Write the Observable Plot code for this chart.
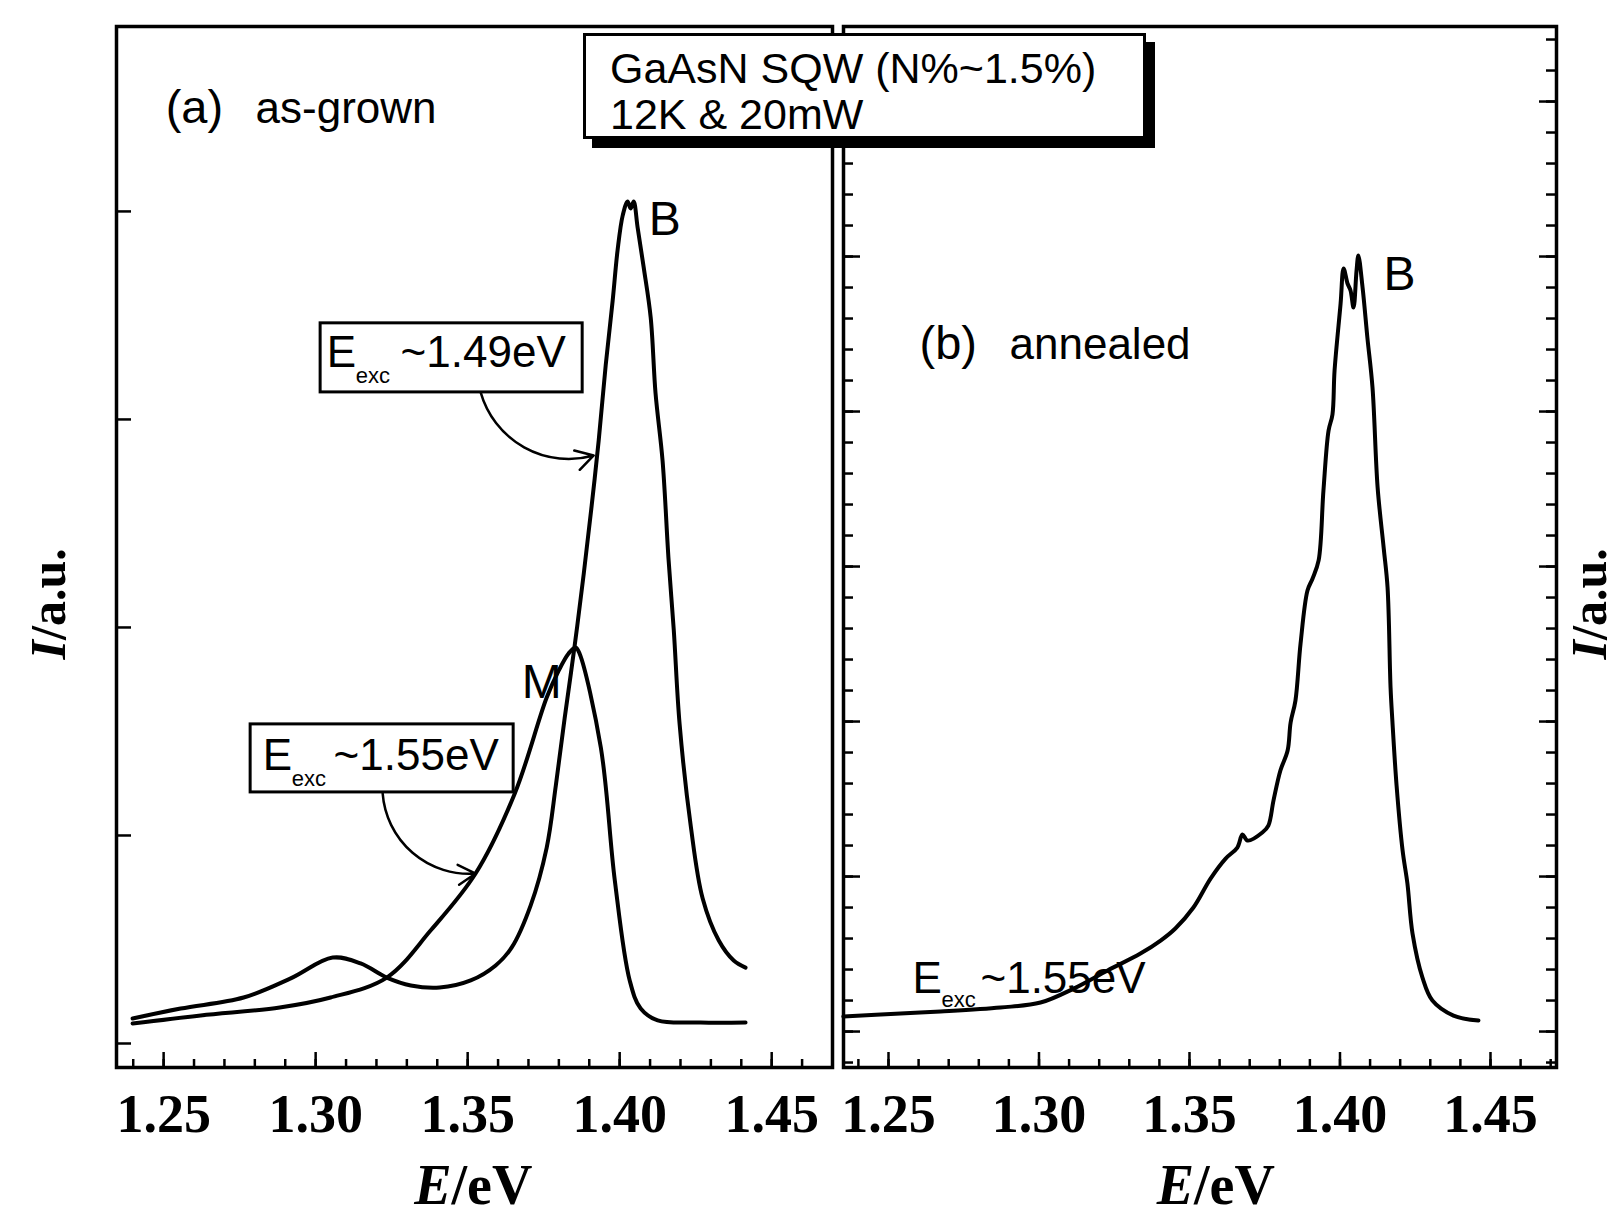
<!DOCTYPE html>
<html>
<head>
<meta charset="utf-8">
<script src="https://cdn.jsdelivr.net/npm/d3@7"></script>
<script src="https://cdn.jsdelivr.net/npm/@observablehq/plot@0.6"></script>
<style>
  body { margin: 0; background: #fff; }
  #wrap { position: relative; width: 1619px; height: 1226px; overflow: hidden; background: #fff; }
  #wrap svg { position: absolute; top: 0; }
  #title {
    position: absolute; left: 583px; top: 33px; width: 563px; height: 106px;
    box-sizing: border-box; border: 3px solid #000; box-shadow: 9px 9px 0 #000;
    background: #fff; padding: 9px 0 0 24px; z-index: 5;
    font-family: "Liberation Sans", Arial, sans-serif; font-size: 43px; line-height: 46px; color: #000;
    white-space: nowrap;
  }
</style>
</head>
<body>
<div id="wrap">
  <div id="title">GaAsN SQW (N%~1.5%)<br>12K &amp; 20mW</div>
</div>
<script>
// ---------------- data ----------------
const xTicksMajor = [1.25, 1.30, 1.35, 1.40, 1.45];
const xTicksMinorA = d3.range(124, 147).map(d => d / 100);
const xTicksMinorB = d3.range(124, 148).map(d => d / 100);
const yTicksA = [0, 1, 2, 3, 4];
const yTicksMajorB = [0, 1, 2, 3, 4, 5, 6];
const yTicksMinorB = d3.range(-1, 33).map(k => k / 5);

// (a) as-grown, excitation ~1.49 eV (hump at 1.30 eV + B peak)
const energyA149 = [1.2398, 1.2556, 1.2763, 1.2918, 1.3056, 1.3148, 1.3234, 1.3313, 1.3408, 1.3510,
  1.3592, 1.3645, 1.3707, 1.3760, 1.3790, 1.3819, 1.3852, 1.3882, 1.3908, 1.3931, 1.3954, 1.3977,
  1.3993, 1.4010, 1.4026, 1.4036, 1.4046, 1.4059, 1.4079, 1.4102, 1.4118, 1.4141, 1.4161, 1.4178,
  1.4197, 1.4234, 1.4273, 1.4326, 1.4375, 1.4414];
const intensityA149 = [0.120, 0.168, 0.221, 0.313, 0.413, 0.385, 0.317, 0.279, 0.269, 0.303,
  0.375, 0.462, 0.663, 0.942, 1.240, 1.563, 1.913, 2.260, 2.587, 2.899, 3.260, 3.572,
  3.812, 3.981, 4.048, 4.014, 4.048, 3.923, 3.731, 3.490, 3.125, 2.803, 2.322, 1.986,
  1.538, 1.043, 0.697, 0.495, 0.399, 0.365];

// (a) as-grown, excitation ~1.55 eV (smooth tail + M peak)
const energyA155 = [1.2398, 1.2622, 1.2882, 1.3049, 1.3234, 1.3378, 1.3526, 1.3655, 1.3760, 1.3799,
  1.3832, 1.3855, 1.3868, 1.3938, 1.3984, 1.4033, 1.4069, 1.4125, 1.4266, 1.4414];
const intensityA155 = [0.096, 0.135, 0.173, 0.221, 0.317, 0.543, 0.817, 1.202, 1.663, 1.791,
  1.875, 1.904, 1.875, 1.423, 0.784, 0.303, 0.168, 0.111, 0.101, 0.101];

// (b) annealed, excitation ~1.55 eV
const energyB155 = [1.2350, 1.2540, 1.2673, 1.2872, 1.3005, 1.3115, 1.3228, 1.3337, 1.3404, 1.3453,
  1.3513, 1.3570, 1.3620, 1.3659, 1.3676, 1.3693, 1.3742, 1.3762, 1.3779, 1.3802, 1.3826, 1.3836,
  1.3852, 1.3869, 1.3892, 1.3909, 1.3929, 1.3945, 1.3962, 1.3975, 1.3982, 1.4002, 1.4012, 1.4025,
  1.4035, 1.4045, 1.4055, 1.4061, 1.4075, 1.4091, 1.4108, 1.4125, 1.4145, 1.4158, 1.4168, 1.4174,
  1.4188, 1.4208, 1.4224, 1.4241, 1.4274, 1.4307, 1.4377, 1.4460];
const intensityB155 = [0.097, 0.116, 0.129, 0.155, 0.187, 0.277, 0.394, 0.503, 0.587, 0.665,
  0.800, 0.987, 1.116, 1.187, 1.271, 1.232, 1.284, 1.329, 1.490, 1.684, 1.813, 1.994,
  2.135, 2.503, 2.845, 2.923, 3.039, 3.490, 3.877, 3.981, 4.265, 4.697, 4.923, 4.826,
  4.781, 4.671, 4.910, 5.006, 4.800, 4.477, 4.155, 3.510, 3.123, 2.865, 2.219, 2.006,
  1.587, 1.168, 0.955, 0.632, 0.348, 0.200, 0.103, 0.071];

// annotations (data coordinates: energy, intensity)
const parenA = [{e: 1.25066, i: 4.423, t: "(a)"}];
const wordA = [{e: 1.28025, i: 4.423, t: "as-grown"}];
const peakA = [{e: 1.40954, i: 3.885, t: "B"}, {e: 1.36776, i: 1.663, t: "M"}];
const boxesA = [{e1: 1.30164, e2: 1.38783, i1: 3.130, i2: 3.462}, {e1: 1.27862, e2: 1.36513, i1: 1.207, i2: 1.534}];
const excEA = [{e: 1.30362, i: 3.250, t: "E"}, {e: 1.28257, i: 1.3125, t: "E"}];
const excSubA = [{e: 1.31316, i: 3.1731, t: "exc"}, {e: 1.29211, i: 1.2356, t: "exc"}];
const excValA = [{e: 1.32795, i: 3.250, t: "~1.49eV"}, {e: 1.30591, i: 1.3125, t: "~1.55eV"}];
const arrowsA = [{e1: 1.35428, i1: 3.130, e2: 1.39145, i2: 2.827}, {e1: 1.32204, i1: 1.202, e2: 1.35263, i2: 0.817}];

const parenB = [{e: 1.26030, i: 4.342, t: "(b)"}];
const wordB = [{e: 1.29020, i: 4.342, t: "annealed"}];
const peakB = [{e: 1.41445, i: 4.787, t: "B"}];
const excEB = [{e: 1.25797, i: 0.2516, t: "E"}];
const excSubB = [{e: 1.26761, i: 0.1613, t: "exc"}];
const excValB = [{e: 1.28056, i: 0.2516, t: "~1.55eV"}];

// ---------------- drawing ----------------
const SANS = "Liberation Sans, Arial, sans-serif";
const SERIF = "Liberation Serif, Times New Roman, serif";
const H = 1226;
const toRows = (E, I) => E.map((e, k) => ({e, i: I[k]}));

function panel(cfg) {
  const {left, width, ml, mr, mt, mb, xdom, ydom, curves, yTicks, extra, rightTicks, axisDx} = cfg;
  const pxX = (width - ml - mr) / (xdom[1] - xdom[0]);
  const pxY = (H - mt - mb) / (ydom[1] - ydom[0]);
  const tl = (px) => px / pxY;
  const tw = (px) => px / pxX;
  const marks = [];
  marks.push(Plot.ruleX(cfg.xMinor, {x: d => d, y1: ydom[0], y2: ydom[0] + tl(8), strokeWidth: 2.5}));
  marks.push(Plot.ruleX(xTicksMajor, {x: d => d, y1: ydom[0], y2: ydom[0] + tl(15), strokeWidth: 2.5}));
  for (const t of yTicks) {
    marks.push(Plot.ruleY(t.values, {y: d => d, x1: xdom[0], x2: xdom[0] + tw(t.len), strokeWidth: 2.5}));
    if (rightTicks) marks.push(Plot.ruleY(t.values, {y: d => d, x1: xdom[1] - tw(t.len), x2: xdom[1], strokeWidth: 2.5}));
  }
  marks.push(...extra.before);
  for (const c of curves) {
    marks.push(Plot.line(c, {x: "e", y: "i", stroke: "#000", strokeWidth: 4, curve: "catmull-rom", strokeLinejoin: "round"}));
  }
  marks.push(...extra.after);
  marks.push(Plot.frame({stroke: "#000", strokeWidth: 3.5}));
  marks.push(Plot.text(xTicksMajor, {x: d => d, frameAnchor: "bottom", dy: 64, lineAnchor: "bottom",
    text: d => d.toFixed(2), fontSize: 54, fontWeight: "bold", fontFamily: SERIF, fill: "#000"}));
  marks.push(Plot.text(["E"], {frameAnchor: "bottom", dx: axisDx, dy: 136, lineAnchor: "bottom", textAnchor: "end",
    text: d => d, fontSize: 56, fontWeight: "bold", fontStyle: "italic", fontFamily: SERIF, fill: "#000"}));
  marks.push(Plot.text(["/eV"], {frameAnchor: "bottom", dx: axisDx, dy: 136, lineAnchor: "bottom", textAnchor: "start",
    text: d => d, fontSize: 56, fontWeight: "bold", fontFamily: SERIF, fill: "#000"}));
  const ya = cfg.yLabel;
  marks.push(Plot.text(["I"], {frameAnchor: ya.anchor, dx: ya.dx, dy: 93, rotate: -90, textAnchor: "end",
    text: d => d, fontSize: 50, fontWeight: "bold", fontStyle: "italic", fontFamily: SERIF, fill: "#000"}));
  marks.push(Plot.text(["/a.u."], {frameAnchor: ya.anchor, dx: ya.dx, dy: 93, rotate: -90, textAnchor: "start",
    text: d => d, fontSize: 50, fontWeight: "bold", fontFamily: SERIF, fill: "#000"}));

  const svg = Plot.plot({
    width, height: H, marginLeft: ml, marginRight: mr, marginTop: mt, marginBottom: mb,
    x: {domain: xdom, axis: null},
    y: {domain: ydom, axis: null},
    style: {background: "transparent", overflow: "visible", color: "#000"},
    marks
  });
  svg.style.left = left + "px";
  document.getElementById("wrap").appendChild(svg);
}

const txt = (data, size, extraOpts = {}) => Plot.text(data, {x: "e", y: "i", text: "t", textAnchor: "start",
  lineAnchor: "bottom", fontSize: size, fontFamily: SANS, fill: "#000", ...extraOpts});

// Panel (a)
panel({
  left: 0, width: 840, ml: 116, mr: 8, mt: 26, mb: 159,
  xdom: [1.2345, 1.4700], ydom: [-0.1154, 4.889],
  xMinor: xTicksMinorA,
  yTicks: [{values: yTicksA, len: 15}],
  rightTicks: false,
  axisDx: -23,
  yLabel: {anchor: "left", dx: -68},
  curves: [toRows(energyA149, intensityA149), toRows(energyA155, intensityA155)],
  extra: {
    before: [],
    after: [
      Plot.rect(boxesA, {x1: "e1", x2: "e2", y1: "i1", y2: "i2", fill: "#fff", stroke: "#000", strokeWidth: 3}),
      txt(excEA, 44), txt(excSubA, 22), txt(excValA, 44),
      Plot.arrow(arrowsA, {x1: "e1", y1: "i1", x2: "e2", y2: "i2", bend: -45, headLength: 12, strokeWidth: 2.5, stroke: "#000"}),
      txt(parenA, 47), txt(wordA, 44), txt(peakA, 48)
    ]
  }
});

// Panel (b)
panel({
  left: 836, width: 783, ml: 7, mr: 63, mt: 26, mb: 159,
  xdom: [1.23505, 1.47193], ydom: [-0.232, 6.484],
  xMinor: xTicksMinorB,
  yTicks: [{values: yTicksMinorB, len: 10}, {values: yTicksMajorB, len: 17}],
  rightTicks: true,
  axisDx: -6,
  yLabel: {anchor: "right", dx: 33},
  curves: [toRows(energyB155, intensityB155)],
  extra: {
    before: [txt(excEB, 44), txt(excSubB, 22), txt(excValB, 44)],
    after: [txt(parenB, 47), txt(wordB, 44), txt(peakB, 48)]
  }
});
</script>
</body>
</html>
